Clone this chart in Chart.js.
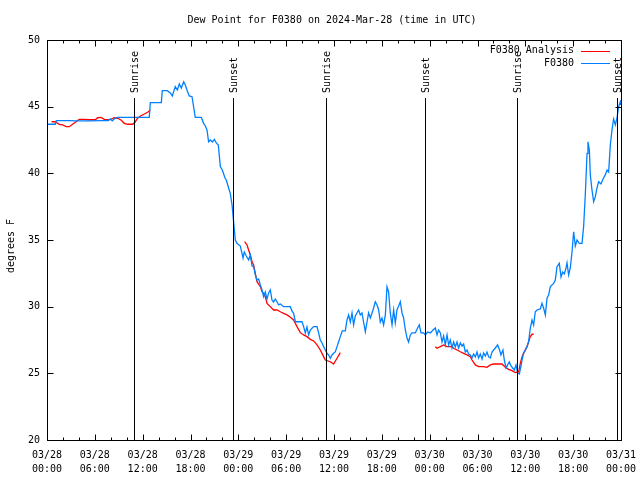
<!DOCTYPE html>
<html>
<head>
<meta charset="utf-8">
<title>Dew Point F0380</title>
<script src="https://cdn.jsdelivr.net/npm/chart.js@4.4.1/dist/chart.umd.min.js"></script>
<style>
  body { margin: 0; background: #ffffff; }
  canvas { display: block; }
</style>
</head>
<body>
<canvas id="grafico" width="640" height="480"></canvas>
<script>
//TEXTS OF THE CHART.
const titulo = "Dew Point for F0380 on 2024-Mar-28 (time in UTC)";
const etiquetaY = "degrees F";
const nombreAnalisis = "F0380 Analysis";
const nombreObs = "F0380";

//TICK LABELS OF THE X AXIS (ONE EVERY 6 HOURS FROM 03/28 00:00 UTC).
const fechasTick = ["03/28", "03/28", "03/28", "03/28", "03/29", "03/29", "03/29", "03/29", "03/30", "03/30", "03/30", "03/30", "03/31"];
const horasTick = ["00:00", "06:00", "12:00", "18:00", "00:00", "06:00", "12:00", "18:00", "00:00", "06:00", "12:00", "18:00", "00:00"];

//SUNRISE / SUNSET MARKERS (HOURS SINCE 03/28 00:00).
const solHoras = [10.86, 23.28, 34.95, 47.37, 58.91, 71.50];
const solNombres = ["Sunrise", "Sunset", "Sunrise", "Sunset", "Sunrise", "Sunset"];

//OBSERVATIONS F0380 (HOURS SINCE 03/28 00:00, DEW POINT IN F).
const obsHoras = [0.04, 1.04, 1.17, 2.92, 3.55, 4.80, 5.43, 6.69, 7.69, 7.94, 8.19, 8.57, 8.94, 12.83, 12.96, 14.34, 14.46, 15.09, 15.47, 15.72,
    16.09, 16.35, 16.60, 16.85, 17.14, 17.35, 17.60, 17.85, 18.19, 18.60, 19.36, 19.64, 19.86, 20.07, 20.27, 20.48, 20.74, 20.99, 21.24, 21.49,
    21.74, 21.99, 22.33, 22.49, 22.78, 22.99, 23.21, 23.41, 23.62, 23.83, 24.25, 24.59, 24.75, 25.00, 25.29, 25.50, 25.72, 25.92, 26.13, 26.34,
    26.54, 26.76, 26.97, 27.17, 27.38, 27.60, 27.80, 28.01, 28.22, 28.42, 28.64, 28.85, 29.05, 29.27, 29.68, 30.52, 30.73, 30.93, 31.15, 31.99,
    32.19, 32.40, 32.61, 32.82, 33.03, 33.44, 33.87, 34.07, 34.28, 34.50, 34.70, 34.91, 35.12, 35.32, 35.54, 35.75, 35.95, 36.17, 36.38, 36.58,
    36.79, 37.04, 37.42, 37.63, 37.83, 38.05, 38.26, 38.46, 38.67, 39.09, 39.30, 39.51, 39.71, 39.93, 40.14, 40.34, 40.56, 40.77, 40.97, 41.18,
    41.40, 41.60, 41.81, 42.02, 42.22, 42.44, 42.65, 42.85, 43.06, 43.28, 43.48, 43.69, 43.90, 44.11, 44.32, 44.53, 44.73, 44.95, 45.16, 45.36,
    45.57, 45.79, 46.20, 46.49, 46.70, 46.91, 47.24, 47.45, 47.74, 48.08, 48.42, 48.71, 48.92, 49.12, 49.34, 49.55, 49.75, 49.96, 50.18, 50.38,
    50.59, 50.80, 51.01, 51.22, 51.43, 51.63, 51.85, 52.06, 52.26, 52.47, 52.69, 52.89, 53.10, 53.31, 53.51, 53.73, 53.94, 54.14, 54.35, 54.57,
    54.77, 54.98, 55.19, 55.40, 55.61, 55.82, 56.02, 56.24, 56.52, 56.77, 56.94, 57.19, 57.36, 57.58, 57.78, 57.99, 58.21, 58.41, 58.62, 58.83,
    59.03, 59.25, 59.46, 59.59, 59.78, 60.00, 60.21, 60.41, 60.62, 60.84, 61.04, 61.25, 61.47, 61.88, 62.09, 62.29, 62.51, 62.72, 62.92, 63.14,
    63.55, 63.76, 63.97, 64.26, 64.48, 64.68, 64.89, 65.10, 65.23, 65.43, 65.64, 65.86, 66.06, 66.27, 66.48, 66.77, 67.11, 67.31, 67.52, 67.74,
    67.86, 68.03, 68.15, 68.36, 68.57, 68.78, 68.99, 69.19, 69.49, 69.75, 70.03, 70.25, 70.45, 70.66, 70.87, 71.07, 71.29, 71.50, 71.70, 71.92,
    72.00];
const obsValores = [43.68, 43.68, 43.96, 43.96, 43.93, 43.93, 43.93, 43.96, 43.96, 44.08, 43.93, 44.15, 44.20, 44.20, 45.30, 45.30, 46.20, 46.20, 46.03, 45.80,
    46.50, 46.25, 46.70, 46.40, 46.87, 46.63, 46.18, 45.80, 45.75, 44.20, 44.20, 43.75, 43.55, 43.25, 42.37, 42.50, 42.35, 42.54, 42.28, 42.13,
    40.50, 40.25, 39.65, 39.50, 38.90, 38.50, 37.63, 36.35, 35.00, 34.75, 34.55, 33.65, 34.10, 33.80, 33.50, 33.88, 33.05, 33.00, 32.38, 32.00,
    32.08, 31.63, 31.25, 30.75, 31.10, 30.58, 31.03, 31.25, 30.50, 30.35, 30.58, 30.37, 30.13, 30.20, 30.00, 30.00, 29.68, 29.50, 28.87, 28.87,
    28.50, 28.03, 28.48, 27.88, 28.25, 28.50, 28.50, 28.03, 27.50, 27.28, 27.00, 26.75, 26.50, 26.38, 26.13, 26.38, 26.50, 26.62, 27.00, 27.37,
    27.75, 28.18, 28.18, 29.00, 29.38, 28.85, 29.53, 28.63, 29.30, 29.75, 29.38, 29.53, 28.85, 28.12, 28.85, 29.53, 29.15, 29.53, 29.90, 30.37,
    30.13, 29.75, 28.85, 29.15, 28.63, 29.38, 31.48, 31.10, 29.53, 28.63, 29.75, 28.78, 29.75, 30.05, 30.37, 29.53, 29.15, 28.25, 27.65, 27.35,
    27.88, 28.03, 28.03, 28.40, 28.63, 28.03, 28.03, 27.88, 28.10, 28.03, 28.25, 28.40, 27.88, 28.25, 28.03, 27.35, 27.80, 27.13, 27.88, 27.13,
    27.50, 26.90, 27.35, 26.98, 27.35, 26.90, 27.28, 27.05, 27.20, 26.60, 26.75, 26.45, 26.38, 26.15, 26.45, 26.23, 26.60, 26.15, 26.45, 26.08,
    26.53, 26.30, 26.60, 26.23, 26.15, 26.60, 26.75, 26.90, 27.13, 26.75, 26.38, 26.75, 26.00, 25.40, 25.63, 25.85, 25.55, 25.40, 25.25, 25.63,
    25.03, 24.95, 25.55, 26.00, 26.50, 26.75, 27.00, 27.37, 28.38, 29.00, 28.63, 29.62, 29.75, 29.83, 30.25, 29.90, 29.38, 30.63, 30.88, 31.50,
    31.75, 32.00, 33.00, 33.25, 32.23, 32.60, 32.45, 32.90, 33.28, 32.38, 32.90, 34.12, 35.62, 34.55, 35.00, 34.75, 34.75, 36.00, 38.38, 41.50,
    42.37, 41.75, 39.88, 38.75, 37.88, 38.25, 38.90, 39.37, 39.20, 39.58, 39.88, 40.25, 40.10, 42.13, 43.25, 44.08, 43.63, 44.15, 45.00, 45.37,
    45.13];

//ANALYSIS F0380 (null = NO ANALYSIS, THE LINE IS BROKEN THERE).
const anaHoras = [0.58, 1.04, 1.54, 1.96, 2.42, 2.80, 3.21, 3.64, 4.05, 4.68, 5.31, 6.06, 6.35, 6.77, 7.19, 7.60, 8.03, 8.44, 8.86, 9.28,
    9.70, 10.11, 10.74, 11.04, 11.36, 11.79, 12.21, 12.62, 12.96, 18.00,
    24.79, 25.09, 25.29, 25.50, 25.72, 25.92, 26.13, 26.34, 26.76, 26.97, 27.17, 27.38, 27.60, 28.01, 28.42, 28.85, 29.27, 29.68, 30.11, 30.52,
    30.93, 31.36, 31.77, 32.19, 32.61, 33.03, 33.44, 33.87, 34.28, 34.70, 34.91, 35.54, 35.95, 36.38, 36.79, 42.00,
    48.71, 48.92, 49.34, 49.75, 50.18, 50.80, 51.01, 51.43, 51.85, 52.26, 52.69, 53.10, 53.31, 53.73, 54.14, 54.77, 55.19, 55.61, 56.02, 57.07,
    57.49, 57.91, 58.33, 58.74, 59.16, 59.37, 59.59, 59.78, 60.21, 60.41, 60.62, 60.84, 61.04];
const anaValores = [43.87, 43.87, 43.68, 43.63, 43.50, 43.50, 43.68, 43.87, 44.05, 44.05, 44.02, 44.02, 44.17, 44.20, 44.05, 44.02, 44.05, 44.17, 44.13, 44.00,
    43.75, 43.68, 43.68, 43.83, 44.13, 44.32, 44.45, 44.58, 44.73, null,
    34.87, 34.63, 34.25, 33.88, 33.37, 33.13, 32.50, 31.87, 31.50, 31.12, 31.00, 30.75, 30.25, 30.00, 29.75, 29.75, 29.62, 29.50, 29.38, 29.20,
    29.00, 28.50, 28.05, 27.88, 27.75, 27.55, 27.43, 27.13, 26.75, 26.25, 26.00, 25.87, 25.70, 26.13, 26.55, null,
    27.00, 26.88, 27.00, 27.13, 27.00, 27.00, 26.88, 26.75, 26.62, 26.50, 26.38, 26.25, 26.00, 25.63, 25.50, 25.50, 25.45, 25.63, 25.70, 25.70,
    25.45, 25.30, 25.20, 25.05, 25.10, 25.75, 26.25, 26.50, 27.00, 27.37, 27.75, 27.93, 27.93];

const colorObs = "#0080ff";
const colorAna = "#ff0000";
const fuente = "'DejaVu Sans Mono', monospace";


//FUNCTION TO JOIN HOURS AND VALUES INTO {x, y} POINTS.
function unirPuntos(horas, valores) {
    return horas.map((h, i) => ({ x: h, y: valores[i] }));
}


//PLUGIN THAT DRAWS THE GNUPLOT STYLE FRAME, INNER TICKS, SUN LINES, TITLE AND LEGEND.
const pluginMarco = {
    id: "marco",
    afterDatasetsDraw(chart) {
        const ctx = chart.ctx;
        const area = chart.chartArea;
        const ex = chart.scales.x;
        const ey = chart.scales.y;
        const izq = Math.round(area.left) + 0.5;
        const der = Math.round(area.right) + 0.5;
        const arr = Math.round(area.top) + 0.5;
        const aba = Math.round(area.bottom) + 0.5;

        ctx.save();
        ctx.strokeStyle = "#000000";
        ctx.fillStyle = "#000000";
        ctx.lineWidth = 1;

        //FRAME.
        ctx.strokeRect(izq, arr, der - izq, aba - arr);

        //X TICKS, MINOR EVERY 2 HOURS AND MAJOR EVERY 6 HOURS, TOP AND BOTTOM.
        ctx.beginPath();
        for (let h = 0; h <= ex.max; h += 2) {
            const px = Math.round(ex.getPixelForValue(h)) + 0.5;
            const largo = (h % 6 === 0) ? 6 : 3;
            ctx.moveTo(px, aba); ctx.lineTo(px, aba - largo);
            ctx.moveTo(px, arr); ctx.lineTo(px, arr + largo);
        }
        //Y TICKS EVERY 5 DEGREES, LEFT AND RIGHT.
        for (let v = ey.min; v <= ey.max; v += 5) {
            const py = Math.round(ey.getPixelForValue(v)) + 0.5;
            ctx.moveTo(izq, py); ctx.lineTo(izq + 6, py);
            ctx.moveTo(der, py); ctx.lineTo(der - 6, py);
        }
        ctx.stroke();

        //SUNRISE / SUNSET VERTICAL LINES WITH THEIR ROTATED LABELS.
        ctx.font = "10px " + fuente;
        ctx.textBaseline = "middle";
        ctx.textAlign = "left";
        solHoras.forEach((h, i) => {
            const px = Math.round(ex.getPixelForValue(h)) + 0.5;
            ctx.beginPath();
            ctx.moveTo(px, area.top + 58);
            ctx.lineTo(px, aba);
            ctx.stroke();
            ctx.save();
            ctx.translate(px + 1, area.top + 53);
            ctx.rotate(-Math.PI / 2);
            ctx.fillText(solNombres[i], 0, 0);
            ctx.restore();
        });

        //LEGEND (TOP RIGHT, TEXT THEN LINE SAMPLE).
        const filas = [[nombreAnalisis, colorAna], [nombreObs, colorObs]];
        ctx.textAlign = "right";
        filas.forEach((f, i) => {
            const y = area.top + 10.5 + i * 12.5;
            ctx.fillStyle = "#000000";
            ctx.fillText(f[0], area.right - 47, y);
            ctx.strokeStyle = f[1];
            ctx.beginPath();
            ctx.moveTo(area.right - 40, Math.round(y) + 0.5);
            ctx.lineTo(area.right - 11, Math.round(y) + 0.5);
            ctx.stroke();
        });

        //TITLE.
        ctx.fillStyle = "#000000";
        ctx.textAlign = "center";
        ctx.fillText(titulo, 332, 20);

        //Y AXIS LABEL.
        ctx.save();
        ctx.translate(11, 246);
        ctx.rotate(-Math.PI / 2);
        ctx.fillText(etiquetaY, 0, 0);
        ctx.restore();

        ctx.restore();
    }
};


//CHART CONFIGURATION.
const ctx = document.getElementById("grafico");
const config = {
    type: "line",
    data: {
        datasets: [
            {
                label: nombreObs,
                data: unirPuntos(obsHoras, obsValores),
                borderColor: colorObs,
                borderWidth: 1.3,
                pointRadius: 0,
                tension: 0,
                order: 0
            },
            {
                label: nombreAnalisis,
                data: unirPuntos(anaHoras, anaValores),
                borderColor: colorAna,
                borderWidth: 1.3,
                pointRadius: 0,
                tension: 0,
                spanGaps: false,
                order: 1
            }
        ]
    },
    options: {
        responsive: false,
        animation: false,
        layout: { padding: { left: 0, right: 19, top: 40, bottom: 0 } },
        plugins: {
            legend: { display: false },
            tooltip: { enabled: false }
        },
        scales: {
            x: {
                type: "linear",
                min: 0,
                max: 72,
                grid: { display: false, drawTicks: false },
                border: { display: false },
                afterFit: s => { s.height = 40; s.paddingLeft = 0; s.paddingRight = 0; },
                ticks: {
                    stepSize: 6,
                    autoSkip: false,
                    maxRotation: 0,
                    minRotation: 0,
                    padding: 8,
                    color: "#000000",
                    font: { family: fuente, size: 10, lineHeight: 1.4 },
                    callback: value => {
                        const i = Math.round(value / 6);
                        return [fechasTick[i], horasTick[i]];
                    }
                }
            },
            y: {
                min: 20,
                max: 50,
                grid: { display: false, drawTicks: false },
                border: { display: false },
                afterFit: s => { s.width = 47; },
                ticks: {
                    stepSize: 5,
                    padding: 7,
                    color: "#000000",
                    font: { family: fuente, size: 10 }
                }
            }
        }
    },
    plugins: [pluginMarco]
};
const grafico = new Chart(ctx, config);
</script>
</body>
</html>
